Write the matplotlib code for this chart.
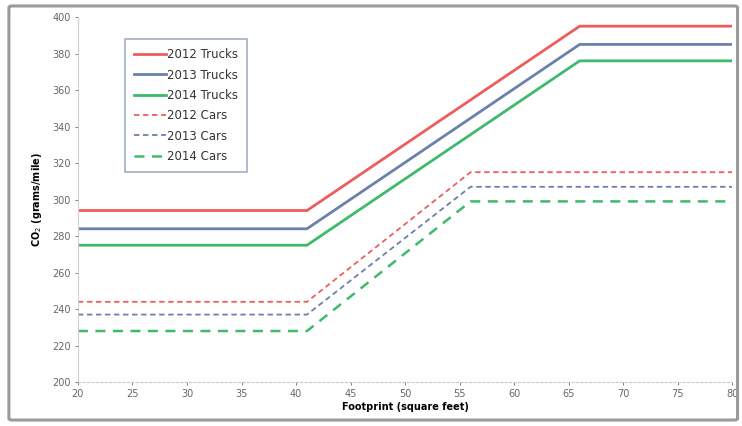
import matplotlib.pyplot as plt
from matplotlib.patches import FancyBboxPatch

# CO2 targets (grams/mile) by vehicle footprint (square feet)
footprint_trucks = [20, 41, 66, 80]
footprint_cars = [20, 41, 56, 80]

trucks_2012 = [294, 294, 395, 395]
trucks_2013 = [284, 284, 385, 385]
trucks_2014 = [275, 275, 376, 376]
cars_2012 = [244, 244, 315, 315]
cars_2013 = [237, 237, 307, 307]
cars_2014 = [228, 228, 299, 299]

red = '#ee5d5d'
blue = '#6b80ad'
green = '#3fba6b'

fig = plt.figure(figsize=(7.42, 4.26), dpi=100)
ax = fig.add_axes([0.105, 0.103, 0.882, 0.857])

ax.plot(footprint_trucks, trucks_2012, color=red, lw=2, label='2012 Trucks')
ax.plot(footprint_trucks, trucks_2013, color=blue, lw=2, label='2013 Trucks')
ax.plot(footprint_trucks, trucks_2014, color=green, lw=2, label='2014 Trucks')
ax.plot(footprint_cars, cars_2012, color=red, lw=1.3, ls=(0, (3, 2)), label='2012 Cars')
ax.plot(footprint_cars, cars_2013, color=blue, lw=1.3, ls=(0, (3, 2)), label='2013 Cars')
ax.plot(footprint_cars, cars_2014, color=green, lw=1.8, ls=(0, (4, 3)), label='2014 Cars')

ax.set_xlim(20, 80)
ax.set_ylim(200, 400)
ax.set_xticks(range(20, 81, 5))
ax.set_yticks(range(200, 401, 20))
ax.tick_params(labelsize=7, colors='#666666', length=2, width=0.6, pad=3)

for side in ['top', 'right']:
    ax.spines[side].set_visible(False)
ax.spines['left'].set_color('#d0d0d0')
ax.spines['bottom'].set_color('#c8c8c8')
ax.spines['bottom'].set_linestyle((0, (2, 2)))

ax.set_xlabel('Footprint (square feet)', fontsize=7, fontweight='bold', labelpad=2)
ax.set_ylabel('CO$_2$ (grams/mile)', fontsize=7, fontweight='bold', labelpad=6)

leg = ax.legend(loc='upper left', bbox_to_anchor=(0.063, 0.955), fontsize=8.5,
                handlelength=2.7, handletextpad=0.1, labelspacing=0.62,
                borderpad=0.75, fancybox=False, edgecolor='#8a9ab5')
leg.get_frame().set_linewidth(1.2)
for t in leg.get_texts():
    t.set_color('#333333')

# rounded border around the whole chart
border = FancyBboxPatch((0.012, 0.014), 0.982, 0.972,
                        boxstyle='round,pad=0,rounding_size=0.004',
                        transform=fig.transFigure, fill=False,
                        edgecolor='#9a9a9a', lw=2.2)
fig.patches.append(border)

fig.savefig('out.png', dpi=100)
